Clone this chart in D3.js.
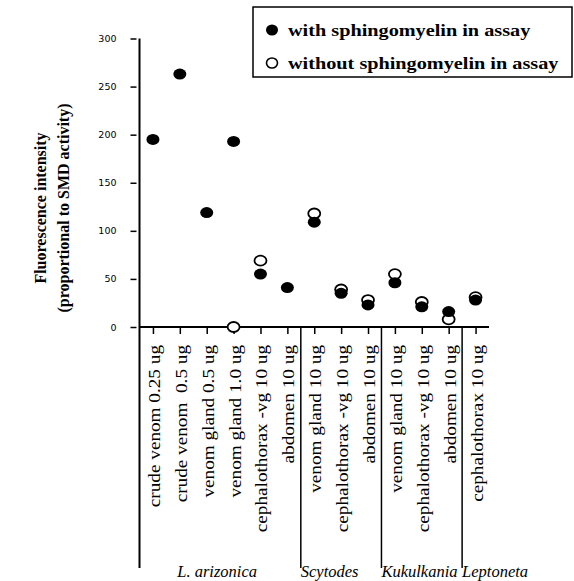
<!DOCTYPE html>
<html lang="en">
<head>
<meta charset="utf-8">
<title>SMD activity</title>
<script src="https://cdn.jsdelivr.net/npm/d3@7"></script>
<style>
body { margin: 0; background: #fff; }
svg { display: block; }
</style>
</head>
<body>
<svg id="chart" width="574" height="581"></svg>
<script>
/** sample labels, left to right */
var categories = ["crude venom 0.25 ug", "crude venom  0.5 ug", "venom gland 0.5 ug",
    "venom gland 1.0 ug", "cephalothorax -vg 10 ug", "abdomen 10 ug",
    "venom gland 10 ug", "cephalothorax -vg 10 ug", "abdomen 10 ug",
    "venom gland 10 ug", "cephalothorax -vg 10 ug", "abdomen 10 ug",
    "cephalothorax 10 ug"];
/** species groups and how many samples each one has */
var species = ["L. arizonica", "Scytodes", "Kukulkania", "Leptoneta"];
var speciesCount = [6, 3, 3, 1];
/** fluorescence values */
var withSM = [195, 263, 119, 193, 55, 41, 109, 35, 23, 46, 21, 16, 28];
var withoutSM = [null, null, null, 0, 69, null, 118, 39, 28, 55, 26, 8, 31];
var yTicks = [0, 50, 100, 150, 200, 250, 300];
var legendLabels = ["with sphingomyelin in assay", "without sphingomyelin in assay"];

var svg = d3.select("#chart"),
    axisX = 139.5,
    axisY = 327,
    bottomY = 568;

var x = d3.scalePoint().domain(d3.range(categories.length)).range([axisX, 489]).padding(0.5),
    y = d3.scaleLinear().domain([0, 300]).range([axisY, 38.5]);

/** y axis: ticks sit a little left of the line */
var gy = svg.append("g")
    .attr("transform", "translate(" + axisX + ",0)")
    .call(d3.axisLeft(y).tickValues(yTicks).tickSizeInner(6).tickSizeOuter(0).tickPadding(17));
gy.select(".domain").remove();
gy.selectAll(".tick line").attr("x1", -3).attr("x2", -9).attr("stroke-width", 1.5);
gy.selectAll(".tick text")
    .attr("font-family", "DejaVu Sans")
    .attr("font-size", "9.5px")
    .attr("fill", "#000");

/** x axis ticks */
var gx = svg.append("g")
    .attr("transform", "translate(0," + axisY + ")")
    .call(d3.axisBottom(x).tickSize(7).tickFormat(""));
gx.select(".domain").remove();
gx.selectAll(".tick line").attr("stroke-width", 1.5);

/** axis lines */
svg.append("line")
    .attr("x1", axisX).attr("x2", axisX)
    .attr("y1", y(300)).attr("y2", bottomY)
    .attr("stroke", "#000").attr("stroke-width", 2);
svg.append("line")
    .attr("x1", axisX).attr("x2", 489)
    .attr("y1", axisY).attr("y2", axisY)
    .attr("stroke", "#000").attr("stroke-width", 2);

/** rotated sample labels */
svg.selectAll(".xlab")
    .data(categories)
    .enter().append("text")
    .attr("class", "xlab")
    .attr("transform", function(_, i) { return "translate(" + (x(i) + 1) + ",345) rotate(-90)"; })
    .attr("text-anchor", "end")
    .attr("dy", "0.35em")
    .attr("font-family", "Liberation Serif")
    .attr("font-size", "17px")
    .style("white-space", "pre")
    .text(function(d) { return d; })
    .each(function() {
        var len = this.getComputedTextLength();
        d3.select(this).attr("textLength", len * 1.13).attr("lengthAdjust", "spacingAndGlyphs");
    });

/** species separators and names */
var ends = d3.cumsum(speciesCount);
var step = x.step();
ends.forEach(function(e, k) {
    var sx = x(e - 1) + step / 2;
    if (k < ends.length - 1) {
        svg.append("line")
            .attr("x1", sx).attr("x2", sx)
            .attr("y1", axisY).attr("y2", bottomY)
            .attr("stroke", "#000").attr("stroke-width", 1.5);
    }
});
species.forEach(function(name, k) {
    var first = k === 0 ? 0 : ends[k - 1];
    var left = x(first) - step / 2;
    var right = x(ends[k] - 1) + step / 2;
    svg.append("text")
        .attr("x", k === 0 ? (left + right) / 2 - 3 : left)
        .attr("y", 577)
        .attr("text-anchor", k === 0 ? "middle" : "start")
        .attr("font-family", "Liberation Serif")
        .attr("font-style", "italic")
        .attr("font-size", "16.5px")
        .text(name);
});

/** markers: open first, filled on top */
svg.selectAll(".open")
    .data(withoutSM.map(function(v, i) { return {v: v, i: i}; }).filter(function(d) { return d.v !== null; }))
    .enter().append("ellipse")
    .attr("class", "open")
    .attr("cx", function(d) { return x(d.i); })
    .attr("cy", function(d) { return y(d.v); })
    .attr("rx", 6).attr("ry", 5)
    .attr("fill", "#fff").attr("stroke", "#000").attr("stroke-width", 1.8);

svg.selectAll(".filled")
    .data(withSM)
    .enter().append("ellipse")
    .attr("class", "filled")
    .attr("cx", function(_, i) { return x(i); })
    .attr("cy", function(d) { return y(d); })
    .attr("rx", 6.5).attr("ry", 5.5)
    .attr("fill", "#000");

/** y axis title */
var title = svg.append("text")
    .attr("transform", "translate(40,208) rotate(-90)")
    .attr("text-anchor", "middle")
    .attr("font-family", "Liberation Serif")
    .attr("font-weight", "bold")
    .attr("font-size", "16px");
title.append("tspan").attr("x", 0).attr("dy", "0.35em").text("Fluorescence intensity");
title.append("tspan").attr("x", 0).attr("dy", "1.45em").text("(proportional to SMD activity)");

/** legend */
var lg = svg.append("g");
lg.append("rect")
    .attr("x", 253).attr("y", 7).attr("width", 319).attr("height", 70)
    .attr("fill", "#fff").attr("stroke", "#000").attr("stroke-width", 1.5);
legendLabels.forEach(function(label, k) {
    var cy = 30 + k * 33;
    lg.append("ellipse")
        .attr("cx", 272).attr("cy", cy)
        .attr("rx", k === 0 ? 6 : 5.5).attr("ry", k === 0 ? 5.5 : 5)
        .attr("fill", k === 0 ? "#000" : "#fff")
        .attr("stroke", "#000").attr("stroke-width", k === 0 ? 0 : 1.6);
    lg.append("text")
        .attr("x", 288).attr("y", cy + 6)
        .attr("font-family", "Liberation Serif")
        .attr("font-weight", "bold")
        .attr("font-size", "17px")
        .text(label)
        .each(function() {
            var len = this.getComputedTextLength();
            d3.select(this).attr("textLength", len * 1.19).attr("lengthAdjust", "spacingAndGlyphs");
        });
});
</script>
</body>
</html>
